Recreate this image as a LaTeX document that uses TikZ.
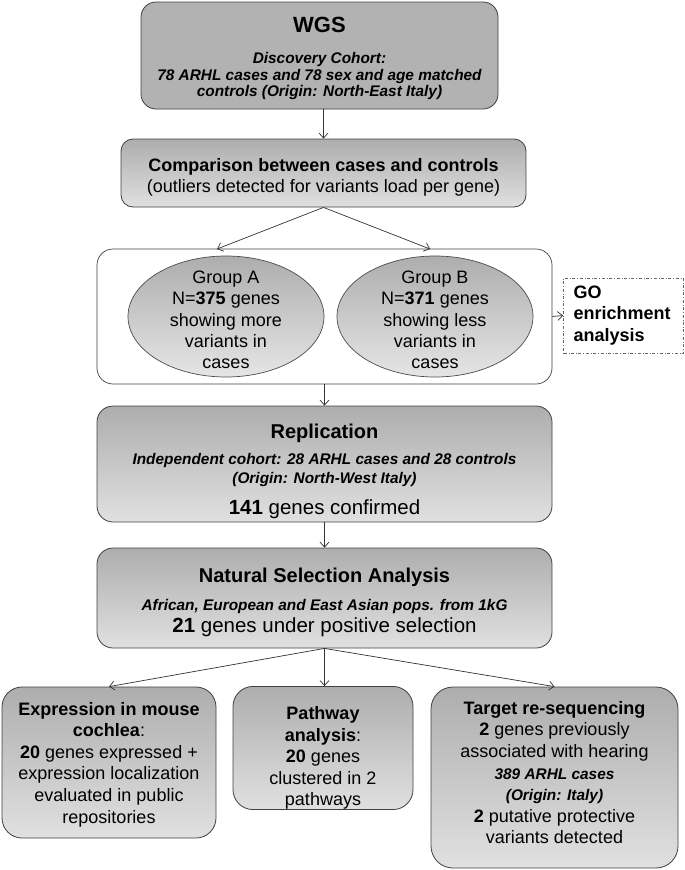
\documentclass[tikz,border=0pt]{standalone}
\usepackage{fontspec}
\setmainfont{Liberation Sans}
\usetikzlibrary{positioning,shapes.geometric,arrows.meta}
\newcommand{\steptitle}{\fontsize{20}{24}\selectfont\bfseries\upshape}
\newcommand{\plainrow}{\fontsize{20.5}{24}\selectfont\mdseries\upshape}
\newcommand{\cohortrow}{\fontsize{15.4}{18}\selectfont\bfseries\itshape}
\newcommand{\lift}[1]{\rule{0pt}{#1}}
\tikzset{
  stage/.style={draw=black!75, line width=0.8pt, rounded corners=14pt, top color=black!32, bottom color=black!12, align=center, inner sep=0pt},
  cohort/.style={font=\fontsize{15.4}{18.4}\selectfont\bfseries\itshape},
  body/.style={font=\fontsize{18}{21.6}\selectfont},
  groupbox/.style={draw=black!75, line width=0.7pt, rounded corners=16pt, fill=white},
  oval/.style={ellipse, draw=black!70, line width=0.7pt, top color=black!32, bottom color=black!10, inner sep=0pt},
  gobox/.style={draw=black!60, dash dot, line width=0.8pt, align=left, text width=100pt, inner xsep=10pt, minimum height=75pt, font=\fontsize{18}{21.6}\selectfont\bfseries},
  arr/.style={-{Straight Barb[length=5pt,width=9pt]}, draw=black!80, line width=0.7pt}
}
\begin{document}
\begin{tikzpicture}[x=1pt,y=-1pt]
\useasboundingbox (0,0) rectangle (685,870);
% top of the study
\node[stage, top color=black!30, bottom color=black!30, minimum width=357pt, minimum height=107pt, rounded corners=15pt,
  font=\fontsize{15.4}{16.7}\selectfont\bfseries\itshape] (wgs) at (319.5,55.5)
  {{\lift{22pt}\fontsize{22}{26}\selectfont\bfseries\upshape WGS}\\[14pt]
   Discovery Cohort:\\
   78 ARHL cases and 78 sex and age matched\\
   controls (Origin: North-East Italy)};
\node[stage, body, minimum width=405pt, minimum height=68pt, rounded corners=12pt, font=\fontsize{18}{21}\selectfont] (comp) at (323.5,173)
  {\lift{21pt}\textbf{Comparison between cases and controls}\\(outliers detected for variants load per gene)};
% the two groups
\node[groupbox, minimum width=455pt, minimum height=135pt] (grp) at (324.5,316.5) {};
\node[oval, minimum width=196pt, minimum height=121pt] (ga) at (226,316.5) {};
\node[body, align=center, font=\fontsize{18}{21.3}\selectfont] (gatext) at (226,320) {Group A\\N=\textbf{375} genes\\showing more\\variants in\\cases};
\node[oval, minimum width=196pt, minimum height=121pt] (gb) at (435,316.5) {};
\node[body, align=center, font=\fontsize{18}{21.3}\selectfont] (gbtext) at (435,320) {Group B\\N=\textbf{371} genes\\showing less\\variants in\\cases};
\node[gobox] (go) at (623.5,315.5) {GO\\enrichment\\analysis};
\coordinate (ina) at (217,249);
\coordinate (inb) at (430,249);
% replication and selection
\node[stage, cohort, minimum width=455pt, minimum height=116pt, rounded corners=16pt] (rep) at (324.5,464)
  {{\lift{29pt}\steptitle Replication}\\[8.2pt]
   Independent cohort: 28 ARHL cases and 28 controls\\
   (Origin: North-West Italy)\\[13.2pt]
   {\plainrow\textbf{141} genes confirmed}};
\node[stage, cohort, minimum width=455pt, minimum height=100pt, rounded corners=16pt] (nsa) at (324.5,598)
  {{\lift{23.5pt}\steptitle Natural Selection Analysis}\\[9.6pt]
   African, European and East Asian pops. from 1kG\\[3.6pt]
   {\plainrow\textbf{21} genes under positive selection}};
% follow-up analyses
\node[stage, body, minimum width=214pt, minimum height=151pt, rounded corners=20pt] (expr) at (109,762.5)
  {\lift{17pt}\textbf{Expression in mouse}\\\textbf{cochlea}:\\\textbf{20} genes expressed +\\expression localization\\evaluated in public\\repositories};
\node[stage, body, minimum width=180pt, minimum height=120pt, rounded corners=20pt] (path) at (323,748)
  {\lift{33pt}\textbf{Pathway}\\\textbf{analysis}:\\\textbf{20} genes\\clustered in 2\\pathways};
\node[stage, body, minimum width=247pt, minimum height=181pt, rounded corners=22pt] (targ) at (554.5,777.5)
  {\textbf{Target re-sequencing}\\\textbf{2} genes previously\\associated with hearing\\
   {\cohortrow 389 ARHL cases}\\{\cohortrow (Origin: Italy)}\\\textbf{2} putative protective\\variants detected\rule[-10pt]{0pt}{0pt}};
% connectors
\draw[arr] (comp.north |- wgs.south) -- (comp.north);
\draw[arr] (comp.south) -- (ina);
\draw[arr] (comp.south) -- (inb);
\draw[arr] (grp.east) -- (go.west);
\draw[arr] (grp.south) -- (rep.north);
\draw[arr] (rep.south) -- (nsa.north);
\draw[arr] (nsa.south) -- (expr.north);
\draw[arr] (nsa.south) -- (nsa.south |- path.north);
\draw[arr] (nsa.south) -- (targ.north);
\end{tikzpicture}
\end{document}
